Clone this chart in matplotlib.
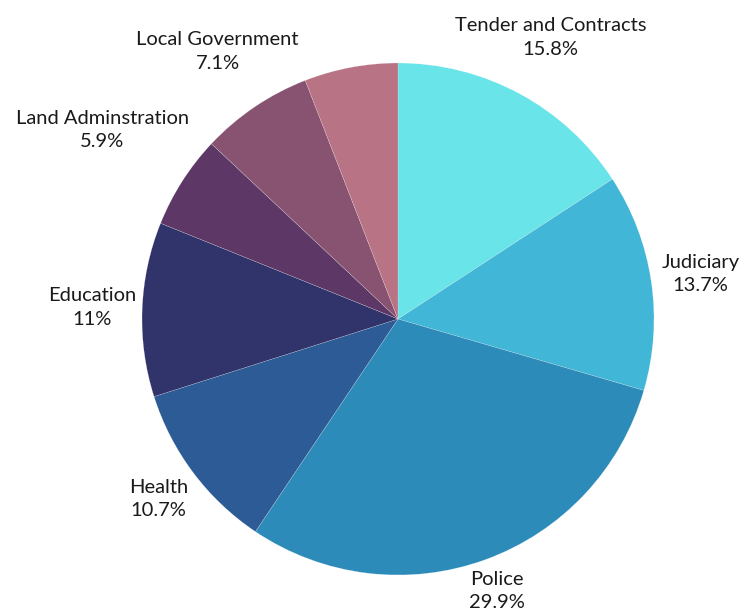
import numpy as np
import matplotlib
matplotlib.use("Agg")
import matplotlib.pyplot as plt

categories = ["Tender and Contracts", "Judiciary", "Police", "Health", "Education",
              "Land Adminstration", "Local Government", "Other"]
values = [15.8, 13.7, 29.9, 10.7, 11.0, 5.9, 7.1, 5.9]
pct_labels = ["15.8%", "13.7%", "29.9%", "10.7%", "11%", "5.9%", "7.1%", ""]
show_label = [True, True, True, True, True, True, True, False]

colors = ["#69e4e8", "#42b6d6", "#2d8bba", "#2d5b95", "#30346b",
          "#5d3867", "#885370", "#b87384"]
label_dist = [1.25, 1.195, 1.13, 1.17, 1.196, 1.37, 1.26, 1.2]

W, H = 744, 612
cx, cy, R = 398, 319, 256
fig = plt.figure(figsize=(W / 100, H / 100), dpi=100)
ax = fig.add_axes([0, 0, 1, 1])
ax.axis("off")

wedges, _ = ax.pie(values, colors=colors, startangle=90, counterclock=False,
                   radius=1.0, center=(0, 0),
                   wedgeprops=dict(edgecolor="white", linewidth=0.12))
ax.set_aspect("auto")
ax.set_xlim(-cx / R, (W - cx) / R)
ax.set_ylim(-(H - cy) / R, cy / R)

for w, name, pct, show, d in zip(wedges, categories, pct_labels, show_label, label_dist):
    if not show:
        continue
    mid = np.deg2rad((w.theta1 + w.theta2) / 2)
    x, y = d * np.cos(mid), d * np.sin(mid)
    ax.text(x, y, f"{name}\n{pct}", ha="center", va="center", fontsize=14.5,
            family="Lato", color="#1a1a1a", linespacing=1.45)

fig.savefig("out.png", dpi=100, facecolor="white")
